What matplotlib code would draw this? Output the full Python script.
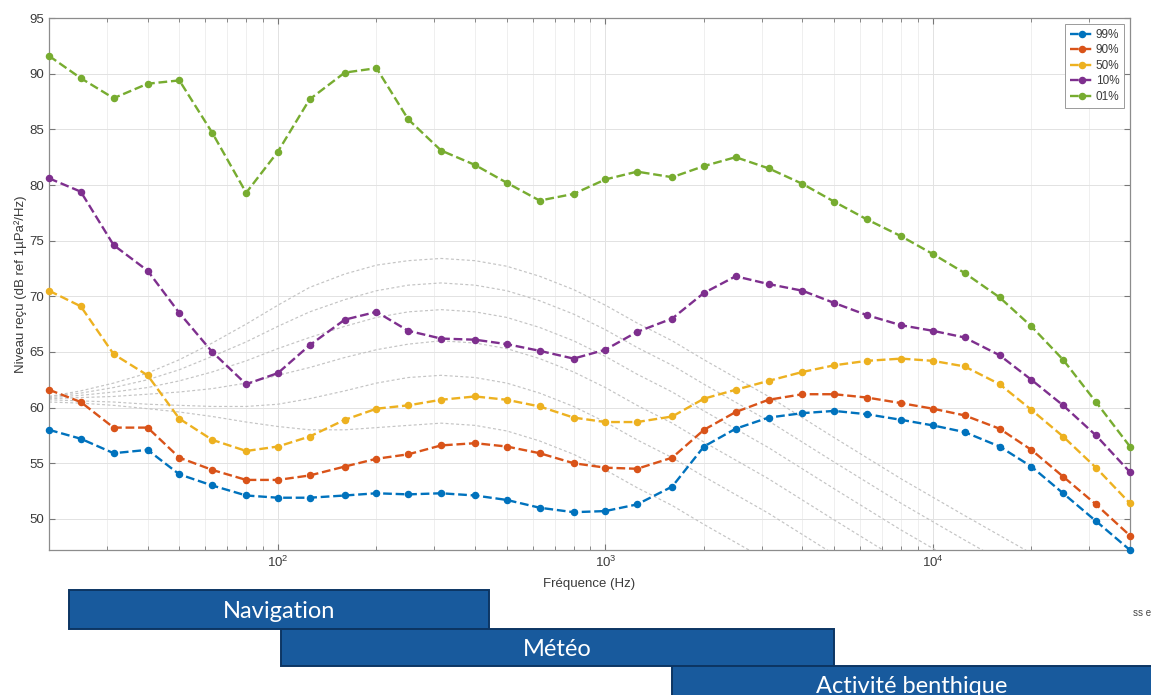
import numpy as np
import matplotlib.pyplot as plt
from matplotlib import transforms
from matplotlib.patches import Rectangle

plt.rcParams['font.family'] = ['Liberation Sans', 'DejaVu Sans']
plt.rcParams['mathtext.default'] = 'regular'

# third-octave band centres (Hz)
freq = [20, 25, 31.5, 40, 50, 63, 80, 100, 125, 160, 200, 250, 315, 400, 500, 630,
        800, 1000, 1250, 1600, 2000, 2500, 3150, 4000, 5000, 6300, 8000, 10000,
        12500, 16000, 20000, 25000, 31500, 40000]

# percentiles of received level (dB ref 1uPa^2/Hz)
p99 = [58.0, 57.2, 55.9, 56.2, 54.0, 53.0, 52.1, 51.9, 51.9, 52.1, 52.3, 52.2,
       52.3, 52.1, 51.7, 51.0, 50.6, 50.7, 51.3, 52.9,
       56.5, 58.1, 59.1, 59.5, 59.7, 59.4, 58.9, 58.4, 57.8, 56.5, 54.7, 52.3, 49.8, 47.2]
p90 = [61.6, 60.5, 58.2, 58.2, 55.5, 54.4, 53.5, 53.5, 53.9, 54.7, 55.4, 55.8,
       56.6, 56.8, 56.5, 55.9, 55.0, 54.6, 54.5, 55.5,
       58.0, 59.6, 60.7, 61.2, 61.2, 60.9, 60.4, 59.9, 59.3, 58.1, 56.2, 53.8, 51.3, 48.5]
p50 = [70.5, 69.1, 64.8, 62.9, 59.0, 57.1, 56.1, 56.5, 57.4, 58.9, 59.9, 60.2,
       60.7, 61.0, 60.7, 60.1, 59.1, 58.7, 58.7, 59.2,
       60.8, 61.6, 62.4, 63.2, 63.8, 64.2, 64.4, 64.2, 63.7, 62.1, 59.8, 57.4, 54.6, 51.4]
p10 = [80.6, 79.4, 74.6, 72.3, 68.5, 65.0, 62.1, 63.1, 65.6, 67.9, 68.6, 66.9,
       66.2, 66.1, 65.7, 65.1, 64.4, 65.2, 66.8, 68.0,
       70.3, 71.8, 71.1, 70.5, 69.4, 68.3, 67.4, 66.9, 66.3, 64.7, 62.5, 60.2, 57.5, 54.2]
p01 = [91.6, 89.6, 87.8, 89.1, 89.4, 84.7, 79.3, 83.0, 87.7, 90.1, 90.5, 85.9,
       83.1, 81.8, 80.2, 78.6, 79.2, 80.5, 81.2, 80.7,
       81.7, 82.5, 81.5, 80.1, 78.5, 76.9, 75.4, 73.8, 72.1, 69.9, 67.3, 64.3, 60.5, 56.5]

labels = ['99%', '90%', '50%', '10%', '01%']
colors = ['#0072BD', '#D95319', '#EDB120', '#7E2F8E', '#77AC30']

# reference sea-state curves
ss_freq = [20, 25, 31.5, 40, 50, 63, 80, 100, 125, 160, 200, 250, 315, 400, 500, 630,
           800, 1000, 1250, 1600, 2000, 3150, 5000, 8000, 12500, 20000, 31500]
ss1 = [61.0, 61.5, 62.2, 63.1, 64.3, 65.8, 67.5, 69.2, 70.8, 72.0, 72.8, 73.2, 73.4, 73.2,
       72.7, 71.8, 70.6, 69.2, 67.6, 66.0, 64.3, 61.0, 57.3, 53.6, 50.3, 46.9, 43.5]
ss2 = [61.0, 61.3, 61.8, 62.5, 63.4, 64.6, 65.9, 67.3, 68.6, 69.7, 70.5, 71.0, 71.2, 71.0,
       70.5, 69.6, 68.4, 67.0, 65.4, 63.8, 62.1, 58.8, 55.1, 51.4, 48.1, 44.7, 41.3]
ss3 = [60.9, 61.1, 61.4, 61.8, 62.4, 63.2, 64.2, 65.3, 66.3, 67.3, 68.1, 68.6, 68.8, 68.6,
       68.1, 67.2, 66.0, 64.6, 63.0, 61.4, 59.7, 56.4, 52.7, 49.0, 45.7, 42.3, 38.9]
ss4 = [60.8, 60.9, 61.0, 61.2, 61.4, 61.7, 62.2, 62.9, 63.6, 64.5, 65.2, 65.7, 66.0, 65.8,
       65.3, 64.4, 63.2, 61.8, 60.2, 58.6, 56.9, 53.6, 49.9, 46.2, 42.9, 39.5, 36.1]
ss5 = [60.7, 60.6, 60.5, 60.3, 60.2, 60.1, 60.1, 60.3, 60.8, 61.5, 62.2, 62.7, 62.9, 62.7,
       62.2, 61.3, 60.1, 58.7, 57.1, 55.5, 53.8, 50.5, 46.8, 43.1, 39.8, 36.4, 33.0]
ss6 = [60.5, 60.4, 60.2, 59.9, 59.6, 59.2, 58.7, 58.3, 58.0, 58.0, 58.2, 58.4, 58.6, 58.4,
       57.9, 57.0, 55.8, 54.4, 52.8, 51.2, 49.5, 46.2, 42.5, 38.8, 35.5, 32.1, 28.7]

# dominant sources and their frequency bands (Hz)
band_names = ['Navigation', 'Météo', 'Activité benthique']
band_lo = [23, 102, 1600]
band_hi = [440, 5000, 47000]

fig = plt.figure(figsize=(11.51, 6.95), dpi=100)
ax = fig.add_axes([0.0426, 0.2086, 0.9391, 0.7654])

for c in [ss1, ss2, ss3, ss4, ss5, ss6]:
    ax.plot(ss_freq, c, color='#c4c4c4', lw=0.85, ls=(0, (2.5, 2)), zorder=2)

for y, lab, col in zip([p99, p90, p50, p10, p01], labels, colors):
    ax.plot(freq, y, ls='--', color=col, lw=1.7, marker='o', ms=4.4,
            label=lab, zorder=3, clip_on=False)

ax.set_xscale('log')
ax.set_xlim(20, 40000)
ax.set_ylim(47.2, 95)
ax.set_yticks(np.arange(50, 96, 5))

ax.grid(True, which='major', color='#e2e2e2', lw=0.7)
ax.grid(True, which='minor', axis='x', color='#ededed', lw=0.6)
ax.set_axisbelow(True)
ax.tick_params(which='both', direction='in', top=True, right=True,
               colors='#777777', labelcolor='#3a3a3a', labelsize=9.5)
ax.tick_params(which='major', length=4.5)
ax.tick_params(which='minor', length=3)
for s in ax.spines.values():
    s.set_color('#8c8c8c')
    s.set_linewidth(0.9)

ax.set_xlabel('Fréquence (Hz)', fontsize=9.5, color='#3a3a3a', labelpad=6)
ax.set_ylabel('Niveau reçu (dB ref 1µPa²/Hz)', fontsize=9.5, color='#3a3a3a', labelpad=2)

leg = ax.legend(loc='upper right', fontsize=8.5, handlelength=2.0, handletextpad=0.2,
                labelspacing=0.3, borderpad=0.4, fancybox=False, framealpha=1,
                edgecolor='#9a9a9a', borderaxespad=0.5)
leg.get_frame().set_linewidth(0.7)
for t in leg.get_texts():
    t.set_color('#3a3a3a')

# source bands below the axis: x follows frequency, y in figure units
trans = transforms.blended_transform_factory(ax.transData, fig.transFigure)
rows = [(0.095, 0.0561), (0.0417, 0.0532), (-0.0115, 0.0532)]
for name, lo, hi, (y0, h) in zip(band_names, band_lo, band_hi, rows):
    ax.add_patch(Rectangle((lo, y0), hi - lo, h, transform=trans, clip_on=False,
                           facecolor='#185a9d', edgecolor='#0c3563', lw=1.4, zorder=5))
    ax.text(np.sqrt(lo * min(hi, 46400)), y0 + h / 2 - 0.003, name, transform=trans,
            ha='center', va='center', color='white', fontsize=17,
            family=['Lato', 'DejaVu Sans'], zorder=6, clip_on=False)

fig.text(0.984, 0.118, 'ss e', fontsize=7, color='#444444', ha='left', va='center')

fig.savefig('out.png', dpi=100)
